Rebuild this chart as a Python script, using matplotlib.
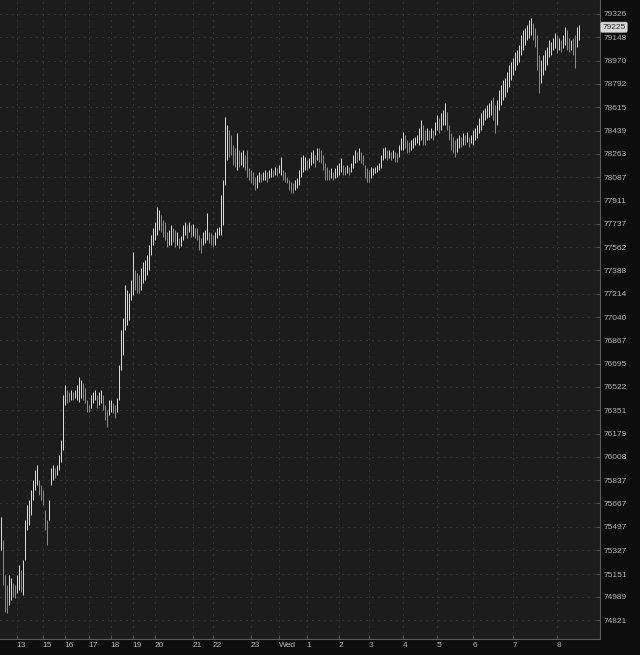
import matplotlib
matplotlib.use("Agg")
import matplotlib.pyplot as plt
from matplotlib.ticker import NullLocator, FixedLocator, FixedFormatter
import numpy as np

# ---- data ----
highs = [
    75570, 75402, 75149, 75076, 75149, 75127, 75090, 75076, 75149, 75221,
    75185, 75257, 75548, 75658, 75694, 75766, 75840, 75913, 75949, 75840,
    75803, 75766, 75621, 75548, 75694, 75928, 75949, 75928, 75949, 76022,
    76132, 76463, 76537, 76500, 76485, 76500, 76485, 76500, 76537, 76596,
    76574, 76552, 76515, 76427, 76390, 76463, 76485, 76500, 76463, 76485,
    76500, 76463, 76390, 76353, 76427, 76427, 76405, 76390, 76441, 76685,
    76944, 77033, 77279, 77242, 77220, 77316, 77525, 77391, 77368, 77353,
    77406, 77450, 77465, 77503, 77578, 77653, 77705, 77750, 77862, 77840,
    77803, 77765, 77750, 77675, 77690, 77728, 77705, 77690, 77675, 77630,
    77645, 77728, 77750, 77728, 77750, 77728, 77735, 77705, 77705, 77653,
    77630, 77675, 77690, 77818, 77675, 77668, 77653, 77675, 77705, 77713,
    77953, 78065, 78542, 78481, 78443, 78405, 78330, 78307, 78420, 78292,
    78277, 78292, 78254, 78292, 78156, 78141, 78126, 78088, 78103, 78126,
    78111, 78126, 78141, 78126, 78141, 78156, 78141, 78164, 78156, 78179,
    78239, 78141, 78126, 78088, 78065, 78050, 78043, 78065, 78080, 78141,
    78239, 78254, 78239, 78216, 78231, 78277, 78292, 78254, 78307, 78307,
    78292, 78254, 78194, 78164, 78141, 78156, 78126, 78156, 78179, 78194,
    78231, 78179, 78164, 78179, 78164, 78194, 78254, 78292, 78277, 78307,
    78277, 78254, 78179, 78156, 78141, 78164, 78156, 78164, 78179, 78194,
    78254, 78307, 78315, 78292, 78292, 78277, 78292, 78277, 78269, 78330,
    78382, 78428, 78405, 78367, 78352, 78367, 78382, 78390, 78405, 78458,
    78519, 78481, 78443, 78458, 78443, 78458, 78443, 78504, 78557, 78534,
    78572, 78594, 78647, 78579, 78481, 78420, 78390, 78367, 78382, 78405,
    78390, 78420, 78405, 78428, 78390, 78405, 78443, 78458, 78481, 78534,
    78572, 78594, 78609, 78632, 78647, 78670, 78693, 78632, 78670, 78746,
    78784, 78822, 78837, 78883, 78937, 78960, 78990, 79036, 79051, 79089,
    79165, 79203, 79218, 79241, 79280, 79295, 79257, 79218, 79165, 79013,
    78975, 79013, 79051, 79074, 79127, 79112, 79142, 79180, 79165, 79142,
    79127, 79165, 79226, 79203, 79142, 79127, 79142, 79165, 79226, 79241,
]
lows = [
    75330, 75076, 74881, 74874, 74932, 74968, 74989, 74982, 75018, 75040,
    75025, 75004, 75257, 75475, 75511, 75584, 75694, 75766, 75803, 75730,
    75694, 75658, 75475, 75366, 75548, 75803, 75840, 75854, 75876, 75913,
    75971, 76059, 76390, 76405, 76412, 76427, 76427, 76441, 76427, 76412,
    76441, 76427, 76405, 76338, 76338, 76368, 76405, 76427, 76368, 76390,
    76405, 76353, 76279, 76228, 76316, 76338, 76331, 76294, 76338, 76427,
    76648, 76759, 76944, 76981, 77018, 77167, 77205, 77242, 77220, 77220,
    77242, 77294, 77316, 77353, 77391, 77503, 77578, 77615, 77653, 77690,
    77675, 77638, 77615, 77563, 77578, 77578, 77600, 77563, 77578, 77555,
    77570, 77615, 77653, 77630, 77675, 77638, 77645, 77630, 77615, 77540,
    77518, 77578, 77593, 77615, 77593, 77578, 77563, 77578, 77630, 77653,
    77653, 77728, 78028, 78216, 78239, 78254, 78179, 78164, 78141, 78164,
    78179, 78164, 78141, 78088, 78065, 78043, 78028, 77990, 78005, 78050,
    78050, 78065, 78065, 78050, 78080, 78088, 78088, 78103, 78096, 78118,
    78103, 78065, 78050, 78043, 77990, 77967, 77967, 77990, 78005, 78028,
    78088, 78126, 78141, 78141, 78156, 78179, 78194, 78164, 78216, 78201,
    78194, 78141, 78065, 78065, 78065, 78080, 78065, 78080, 78088, 78103,
    78126, 78103, 78103, 78118, 78103, 78126, 78156, 78194, 78201, 78216,
    78194, 78179, 78080, 78050, 78050, 78080, 78103, 78118, 78126, 78141,
    78156, 78216, 78231, 78216, 78231, 78216, 78231, 78201, 78201, 78239,
    78292, 78292, 78307, 78269, 78277, 78292, 78307, 78330, 78345, 78330,
    78367, 78330, 78330, 78367, 78367, 78382, 78367, 78405, 78443, 78420,
    78443, 78481, 78481, 78443, 78367, 78292, 78269, 78239, 78277, 78307,
    78315, 78330, 78330, 78352, 78315, 78345, 78330, 78367, 78382, 78420,
    78443, 78481, 78519, 78534, 78542, 78557, 78519, 78420, 78481, 78594,
    78632, 78670, 78693, 78731, 78769, 78822, 78860, 78898, 78937, 78960,
    79013, 79051, 79089, 79127, 79142, 79165, 79127, 79074, 78898, 78723,
    78799, 78860, 78898, 78937, 78998, 79013, 79051, 79066, 79028, 79051,
    79036, 79066, 79089, 79051, 79036, 79051, 79013, 78914, 79074, 79127,
]
last_price = 79225

price_ticks = [79326, 79148, 78970, 78792, 78615, 78439, 78263, 78087, 77911,
               77737, 77562, 77388, 77214, 77040, 76867, 76695, 76522, 76351,
               76179, 76008, 75837, 75667, 75497, 75327, 75151, 74989, 74821]

time_labels = ["13", "15", "16", "17", "18", "19", "20", "21", "22", "23",
               "Wed", "1", "2", "3", "4", "5", "6", "7", "8"]
time_bar_index = [8, 21, 32, 44, 55, 66, 77, 96, 106, 125, 139, 153, 169,
                  184, 201, 218, 236, 256, 278]

# ---- figure ----
W, H = 640, 655
fig = plt.figure(figsize=(W / 100, H / 100), dpi=100, facecolor="#0d0d0d")
ax = fig.add_axes([0, 16 / H, 600 / W, 639 / H])
ax.set_facecolor("#1c1c1c")

x = np.arange(len(highs))
hi = np.array(highs)
lo = np.array(lows)
mid = (hi + lo) / 2
up = np.r_[True, mid[1:] >= mid[:-1]]
colors = np.where(up, "#d6d6d6", "#8a8a8a")
ax.vlines(x, lo, hi, colors=colors, linewidth=0.72, zorder=3)

ax.set_yscale("log")
ax.set_ylim(74684, 79433)
ax.set_xlim(-0.25, 299.75)

ax.yaxis.set_major_locator(FixedLocator(price_ticks))
ax.yaxis.set_major_formatter(FixedFormatter([str(v) for v in price_ticks]))
ax.yaxis.set_minor_locator(NullLocator())
ax.yaxis.tick_right()
ax.xaxis.set_major_locator(FixedLocator(time_bar_index))
ax.xaxis.set_major_formatter(FixedFormatter(time_labels))
ax.xaxis.set_minor_locator(NullLocator())

fam = ["Liberation Sans", "DejaVu Sans"]
for lab in ax.get_yticklabels():
    lab.set_fontfamily(fam); lab.set_fontsize(6.0)
for lab in ax.get_xticklabels():
    lab.set_fontfamily(fam); lab.set_fontsize(6.0)
    lab.set_horizontalalignment("left")

ax.tick_params(axis="y", which="major", direction="in", length=3, width=0.7,
               color="#555555", labelcolor="#b0b0b0", pad=2.5)
ax.tick_params(axis="x", which="major", direction="in", length=3, width=0.7,
               color="#555555", labelcolor="#b0b0b0", pad=2)

ax.grid(True, which="major", color="#4a4a4a", linestyle=(0, (1, 5)), linewidth=0.72)
ax.set_axisbelow(True)

for s in ["top", "left"]:
    ax.spines[s].set_visible(False)
for s in ["right", "bottom"]:
    ax.spines[s].set_color("#5a5a5a")
    ax.spines[s].set_linewidth(0.8)

# current price tag
ax.text(1.004, last_price, str(last_price), transform=ax.get_yaxis_transform(),
        ha="left", va="center", fontsize=6.0, color="#2a2a2a", family=fam,
        bbox=dict(boxstyle="round,pad=0.18,rounding_size=0.15", fc="#d8d8d8",
                  ec="#d8d8d8", lw=0.5), zorder=10, clip_on=False)

fig.savefig("out.png", dpi=100, facecolor=fig.get_facecolor())
